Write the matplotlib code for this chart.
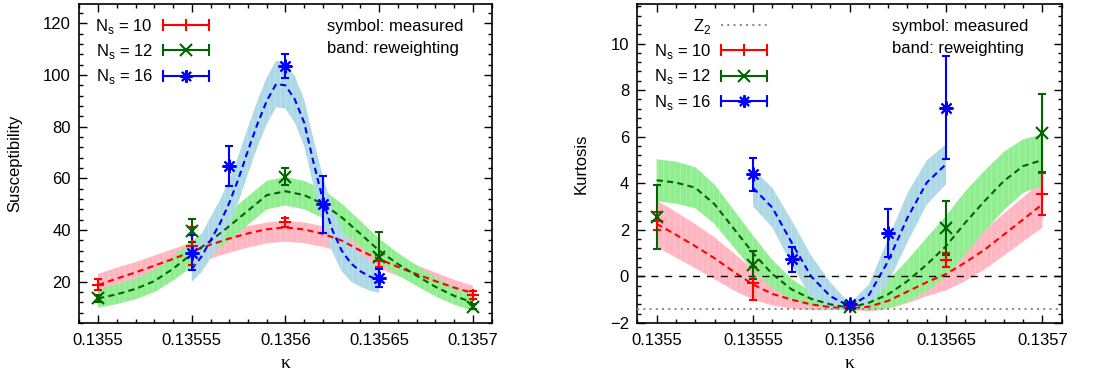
import matplotlib
matplotlib.use("Agg")
import matplotlib.pyplot as plt
import numpy as np
from matplotlib.lines import Line2D
from matplotlib.legend_handler import HandlerBase
from matplotlib.ticker import MultipleLocator

# ---- data ----
k_ticks = [0.1355, 0.13555, 0.1356, 0.13565, 0.1357]
k_labels = ["0.1355", "0.13555", "0.1356", "0.13565", "0.1357"]

# measured points
k_pts = [0.1355, 0.13555, 0.1356, 0.13565, 0.1357]
k_pts16 = [0.13555, 0.13557, 0.1356, 0.13562, 0.13565]

sus10 = [18.8, 33.8, 43.0, 28.0, 14.7]
sus10_err = [2.1, 7.3, 1.7, 2.5, 1.5]
sus12 = [13.5, 39.8, 60.7, 29.5, 10.3]
sus12_err = [1.5, 4.3, 3.4, 9.7, 1.0]
sus16 = [31.2, 64.8, 103.4, 49.9, 21.3]
sus16_err = [6.7, 7.8, 4.6, 11.0, 3.5]

kur10 = [2.38, -0.3, -1.3, 0.7, 3.53]
kur10_err = [0.4, 0.72, 0.05, 0.3, 0.9]
kur12 = [2.56, 0.48, -1.33, 2.08, 6.15]
kur12_err = [1.37, 0.6, 0.05, 1.15, 1.67]
kur16 = [4.38, 0.73, -1.2, 1.88, 7.25]
kur16_err = [0.72, 0.53, 0.1, 1.03, 2.22]

# reweighting bands
k_band = [0.13550, 0.13551, 0.13552, 0.13553, 0.13554, 0.13555, 0.13556,
          0.13557, 0.13558, 0.13559, 0.13560, 0.13561, 0.13562, 0.13563,
          0.13564, 0.13565, 0.13566, 0.13567, 0.13568, 0.13569, 0.13570]
k_band16s = [0.135550, 0.135555, 0.135560, 0.135565, 0.135570, 0.135575,
             0.135580, 0.135585, 0.135590, 0.135595, 0.135600, 0.135605,
             0.135610, 0.135615, 0.135620, 0.135625, 0.135630, 0.135635,
             0.135640, 0.135645, 0.135650]
k_band16k = [0.13555, 0.13556, 0.13557, 0.13558, 0.13559, 0.13560,
             0.13561, 0.13562, 0.13563, 0.13564, 0.13565]

sband10 = [18.7, 21.2, 23.6, 26.2, 28.8, 31.6, 34.3, 36.7, 38.7, 40.3, 41.0,
           40.2, 38.5, 35.9, 32.0, 28.7, 25.7, 22.9, 20.2, 17.7, 15.6]
sband10_up = [4.3, 4.2, 4.0, 3.9, 3.8, 3.6, 3.3, 3.0, 2.8, 2.6, 2.6,
              2.7, 3.0, 3.4, 3.8, 3.9, 3.7, 3.5, 3.3, 3.0, 2.8]
sband10_dn = [4.0, 4.2, 4.4, 4.6, 4.9, 5.2, 5.4, 5.5, 5.5, 5.5, 5.5,
              5.3, 5.0, 4.5, 4.0, 3.7, 3.5, 3.3, 3.1, 3.0, 3.0]
sband12 = [13.5, 15.1, 17.2, 20.2, 25.0, 30.7, 35.8, 41.5, 47.5, 53.5, 55.0,
           53.5, 50.1, 44.9, 38.5, 32.0, 26.8, 22.3, 18.0, 14.5, 11.9]
sband12_d = [3.6, 3.8, 4.0, 4.3, 4.6, 5.0, 5.3, 5.5, 5.5, 5.5, 5.5,
             5.5, 5.5, 5.3, 5.0, 4.6, 4.3, 4.0, 3.7, 3.4, 3.2]
sband16 = [24.9, 29.5, 36.0, 42.5, 50.5, 60.0, 70.8, 81.0, 90.0, 96.5, 96.0,
           90.5, 81.5, 66.0, 51.5, 40.0, 32.0, 27.0, 24.0, 22.0, 20.6]
sband16_up = [8, 8.5, 9, 9, 9, 9, 9, 9, 9, 9, 9,
              9, 9, 9, 9, 9, 8.5, 8, 7, 6, 5]
sband16_dn = [5, 6, 7, 8, 9, 9, 9, 9, 9, 9, 9,
              9, 9, 9, 9, 8.5, 8, 7, 6, 5.5, 5]

kband10 = [2.26, 1.79, 1.3, 0.78, 0.2, -0.35, -0.75, -1.0, -1.2, -1.32, -1.38,
           -1.3, -1.05, -0.65, -0.25, 0.1, 0.6, 1.15, 1.8, 2.45, 3.1]
kband10_d = [1.0, 0.98, 0.95, 0.9, 0.8, 0.65, 0.5, 0.38, 0.25, 0.12, 0.05,
             0.2, 0.35, 0.5, 0.6, 0.7, 0.8, 0.85, 0.9, 0.95, 1.0]
kband12 = [4.13, 4.03, 3.81, 3.1, 2.05, 1.0, 0.1, -0.56, -0.96, -1.2, -1.35,
           -1.13, -0.77, -0.2, 0.51, 1.3, 2.31, 3.24, 4.1, 4.74, 5.0]
kband12_d = [0.9, 0.9, 0.88, 0.85, 0.8, 0.75, 0.6, 0.45, 0.3, 0.15, 0.05,
             0.3, 0.6, 0.9, 1.15, 1.3, 1.35, 1.3, 1.25, 1.15, 1.1]
kband16 = [3.8, 2.95, 1.45, 0.01, -0.85, -1.28, -0.8, 0.66, 2.52, 4.03, 4.82]
kband16_d = [0.8, 0.85, 0.95, 0.9, 0.6, 0.1, 0.45, 0.95, 1.05, 0.95, 0.86]

z2_kurtosis = -1.396

RED = "#ff0000"
GREEN = "#006400"
BLUE = "#0000ff"
PINK = "#ffb6c1"
LGREEN = "#90ee90"
LBLUE = "#add8e6"

plt.rcParams["font.family"] = ["Liberation Sans", "DejaVu Sans"]
plt.rcParams["font.size"] = 12
plt.rcParams["hatch.linewidth"] = 0.5


class ErrKey(HandlerBase):
    # gnuplot style key: horizontal bar with caps and the symbol in the middle
    def create_artists(self, legend, orig_handle, xdescent, ydescent,
                       width, height, fontsize, trans):
        y = height / 2 - ydescent
        x0, x1 = -xdescent, width - xdescent
        col = orig_handle.get_color()
        bar = Line2D([x0, x1], [y, y], color=col, lw=1.5, marker="|",
                     ms=8, mew=1.5)
        sym = Line2D([(x0 + x1) / 2], [y], color=col, ls="none",
                     marker=orig_handle.get_marker(), ms=9, mew=1.5)
        bar.set_transform(trans)
        sym.set_transform(trans)
        return [bar, sym]


def band(ax, k, c, up, dn, face, line):
    c = np.array(c)
    rgb = np.array(matplotlib.colors.to_rgb(face))
    ax.fill_between(k, c - np.array(dn), c + np.array(up), facecolor=face,
                    edgecolor=matplotlib.colors.to_hex(0.7 * rgb + 0.3),
                    hatch="|||", linewidth=0, zorder=1)
    ax.plot(k, c, color=line, lw=1.5, ls=(0, (3, 2)), zorder=3)


def points(ax, k, v, e, col, mk, ms):
    ax.errorbar(k, v, yerr=e, color=col, ls="none", marker=mk, ms=ms,
                mew=1.5, elinewidth=1.5, capsize=3, capthick=1.5, zorder=5)


def style(ax, ylabel, lx):
    ax.set_xlim(0.13549, 0.13571)
    ax.set_xticks(k_ticks, k_labels)
    ax.xaxis.set_minor_locator(MultipleLocator(1e-5))
    ax.tick_params(which="both", direction="in", top=True, right=True)
    ax.tick_params(which="major", length=6, width=1)
    ax.tick_params(which="minor", length=3, width=1)
    ax.tick_params(axis="x", pad=7)
    ax.tick_params(axis="y", pad=6)
    ax.set_xlabel("κ", family="Liberation Serif", fontsize=14)
    ax.xaxis.set_label_coords(0.5, -0.1)
    ax.set_ylabel(ylabel)
    ax.yaxis.set_label_coords(lx, 0.5)
    for s in ax.spines.values():
        s.set_linewidth(1.2)
    ax.text(0.60, 0.93, "symbol: measured", transform=ax.transAxes,
            va="center", ha="left")
    ax.text(0.60, 0.86, "band: reweighting", transform=ax.transAxes,
            va="center", ha="left")


def key(ax, handles, labels, hmap):
    ax.legend(handles, labels, handler_map=hmap, loc="upper left",
              bbox_to_anchor=(0.015, 0.99), frameon=False, markerfirst=False,
              handlelength=2.75, handletextpad=0.6, labelspacing=0.37,
              borderaxespad=0.2, fontsize=12)


fig = plt.figure(figsize=(10.97, 3.74), dpi=100)
ax1 = fig.add_axes([0.0723, 0.1364, 0.3759, 0.8530])
ax2 = fig.add_axes([0.5810, 0.1364, 0.3869, 0.8530])

# ---- susceptibility ----
band(ax1, k_band, sband10, sband10_up, sband10_dn, PINK, RED)
band(ax1, k_band, sband12, sband12_d, sband12_d, LGREEN, GREEN)
band(ax1, k_band16s, sband16, sband16_up, sband16_dn, LBLUE, BLUE)
points(ax1, k_pts, sus10, sus10_err, RED, "+", 9)
points(ax1, k_pts, sus12, sus12_err, GREEN, "x", 8)
points(ax1, k_pts16, sus16, sus16_err, BLUE, (8, 2, 0), 10)
ax1.set_ylim(4, 127.5)
ax1.set_yticks([20, 40, 60, 80, 100, 120])
ax1.yaxis.set_minor_locator(MultipleLocator(4))
style(ax1, "Susceptibility", -0.139)

h10 = Line2D([], [], color=RED, marker="+")
h12 = Line2D([], [], color=GREEN, marker="x")
h16 = Line2D([], [], color=BLUE, marker=(8, 2, 0))
hmap = {h10: ErrKey(), h12: ErrKey(), h16: ErrKey()}
ns_labels = ["N$_\\mathregular{s}$ = 10", "N$_\\mathregular{s}$ = 12",
             "N$_\\mathregular{s}$ = 16"]
key(ax1, [h10, h12, h16], ns_labels, hmap)

# ---- kurtosis ----
ax2.axhline(0, color="black", lw=1, ls=(0, (5, 5)), zorder=4)
band(ax2, k_band, kband10, kband10_d, kband10_d, PINK, RED)
band(ax2, k_band, kband12, kband12_d, kband12_d, LGREEN, GREEN)
band(ax2, k_band16k, kband16, kband16_d, kband16_d, LBLUE, BLUE)
zline = ax2.axhline(z2_kurtosis, color="#909090", lw=1.5, ls=(0, (1, 2)),
                    zorder=4)
points(ax2, k_pts, kur10, kur10_err, RED, "+", 9)
points(ax2, k_pts, kur12, kur12_err, GREEN, "x", 8)
points(ax2, k_pts16, kur16, kur16_err, BLUE, (8, 2, 0), 10)
ax2.set_ylim(-2, 11.7)
ax2.set_yticks([-2, 0, 2, 4, 6, 8, 10])
ax2.yaxis.set_minor_locator(MultipleLocator(0.4))
style(ax2, "Kurtosis", -0.114)

key(ax2, [zline, h10, h12, h16], ["Z$_\\mathregular{2}$"] + ns_labels, hmap)

fig.savefig("out.png", dpi=100)
